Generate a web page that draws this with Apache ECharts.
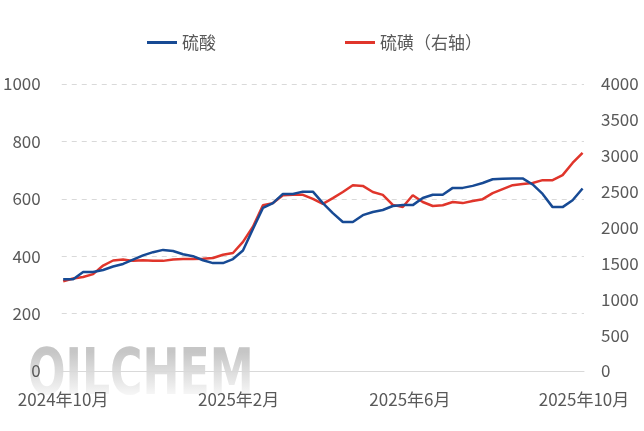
<!DOCTYPE html>
<html>
<head>
<meta charset="utf-8">
<script src="https://cdn.jsdelivr.net/npm/echarts@6/dist/echarts.min.js"></script>
<style>
html,body{margin:0;padding:0;background:#fff;}
#c{width:644px;height:431px;}
</style>
</head>
<body>
<div id="c"></div>
<script>
// weekly dates
var dates = [
 '2024-10-01','2024-10-08','2024-10-15','2024-10-22','2024-10-29',
 '2024-11-05','2024-11-12','2024-11-19','2024-11-26',
 '2024-12-03','2024-12-10','2024-12-17','2024-12-24','2024-12-31',
 '2025-01-07','2025-01-14','2025-01-21','2025-01-28',
 '2025-02-04','2025-02-11','2025-02-18','2025-02-25',
 '2025-03-04','2025-03-11','2025-03-18','2025-03-25',
 '2025-04-01','2025-04-08','2025-04-15','2025-04-22','2025-04-29',
 '2025-05-06','2025-05-13','2025-05-20','2025-05-27',
 '2025-06-03','2025-06-10','2025-06-17','2025-06-24',
 '2025-07-01','2025-07-08','2025-07-15','2025-07-22','2025-07-29',
 '2025-08-05','2025-08-12','2025-08-19','2025-08-26',
 '2025-09-02','2025-09-09','2025-09-16','2025-09-23','2025-09-30'
];
// 硫酸 (left axis)
var sulfuricAcid = [
 320,320,345,345,352,364,373,388,403,414,422,418,407,400,386,376,376,390,
 420,495,568,585,617,617,625,625,585,550,519,519,543,554,561,575,578,578,
 603,614,614,638,638,645,655,668,670,671,671,650,617,571,571,595,636
];
// 硫磺 (right axis)
var sulfur = [
 1250,1290,1310,1350,1470,1540,1555,1535,1545,1535,1535,1555,1560,1560,1565,1575,1620,1645,
 1800,2010,2310,2340,2450,2455,2455,2400,2330,2410,2495,2590,2580,2495,2455,2315,2285,2450,
 2355,2300,2310,2355,2340,2370,2395,2480,2535,2590,2605,2620,2660,2660,2730,2900,3040
];
var seriesNames = ['硫酸','硫磺（右轴）'];
var tickDates = ['2024-10-01','2025-02-01','2025-06-01','2025-10-01'];
var tickLabels = ['2024年10月','2025年2月','2025年6月','2025年10月'];
var axisStartDate = '2024-09-30';
var leftTicks = {min:0, max:1000, interval:200};
var rightTicks = {min:0, max:4000, interval:500};

var base = Date.UTC(2024,9,1);
function dayOf(s){var p=s.split('-');return Math.round((Date.UTC(+p[0],+p[1]-1,+p[2])-base)/86400000);}
var tickDays = tickDates.map(dayOf);
function pairs(vals){return vals.map(function(v,i){return [dayOf(dates[i]), v];});}

var font = 'Noto Sans CJK SC';
var labelColor = '#595959';
var chart = echarts.init(document.getElementById('c'));
chart.setOption({
  animation:false,
  backgroundColor:'#fff',
  textStyle:{fontFamily:font},
  graphic:[{
    type:'text', left:28, top:345, z:-3, silent:true,
    scaleX:0.69,
    style:{
      text:'OILCHEM', fontSize:64, fontWeight:'bold', fontFamily:'DejaVu Sans',
      fill:'#c6c6c6'
    }
  },{
    type:'rect', left:20, top:352, z:-2, silent:true,
    shape:{width:240, height:46},
    style:{
      fill:new echarts.graphic.LinearGradient(0,0,0,1,[{offset:0,color:'rgba(255,255,255,0)'},{offset:1,color:'rgba(255,255,255,0.92)'}])
    }
  }],
  legend:{
    top:34, left:147, padding:0, itemGap:129, itemWidth:30, itemHeight:3, icon:'rect',
    textStyle:{fontSize:17, color:labelColor, fontFamily:font},
    data:seriesNames
  },
  grid:{left:60.5, right:60, top:84, bottom:60, containLabel:false},
  xAxis:{
    type:'value', min:dayOf(axisStartDate), max:tickDays[3],
    axisLine:{show:true, lineStyle:{color:'#d9d9d9', width:1}},
    axisTick:{show:false},
    splitLine:{show:false},
    axisLabel:{
      customValues:tickDays, fontSize:17, color:labelColor, margin:20, fontFamily:font,
      formatter:function(v){var i=tickDays.indexOf(Math.round(v));return i>=0?tickLabels[i]:'';}
    }
  },
  yAxis:[{
    type:'value', min:leftTicks.min, max:leftTicks.max, interval:leftTicks.interval,
    axisLine:{show:false}, axisTick:{show:false},
    splitLine:{show:true, lineStyle:{color:'#d9d9d9', type:[5,5], width:1}},
    axisLabel:{fontSize:17, color:labelColor, margin:21, fontFamily:font, formatter:function(v){return String(v);}}
  },{
    type:'value', min:rightTicks.min, max:rightTicks.max, interval:rightTicks.interval,
    axisLine:{show:false}, axisTick:{show:false},
    splitLine:{show:false},
    axisLabel:{fontSize:17, color:labelColor, margin:17, fontFamily:font, formatter:function(v){return String(v);}}
  }],
  series:[{
    name:seriesNames[0], type:'line', yAxisIndex:0, data:pairs(sulfuricAcid),
    symbol:'none', lineStyle:{color:'#174A94', width:2.5}, itemStyle:{color:'#174A94'}, z:3
  },{
    name:seriesNames[1], type:'line', yAxisIndex:1, data:pairs(sulfur),
    symbol:'none', lineStyle:{color:'#E0352B', width:2.5}, itemStyle:{color:'#E0352B'}, z:2
  }]
});
</script>
</body>
</html>
